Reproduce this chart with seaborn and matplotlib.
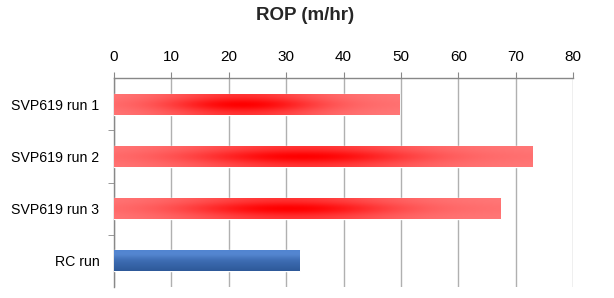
import numpy as np
import pandas as pd
import matplotlib
matplotlib.use("Agg")
import matplotlib.pyplot as plt
import seaborn as sns

categories = ["SVP619 run 1", "SVP619 run 2", "SVP619 run 3", "RC run"]
rop_values = [49.7, 73.0, 67.4, 32.4]
x_ticks = [0, 10, 20, 30, 40, 50, 60, 70, 80]
title = "ROP (m/hr)"

sns.set_style("white")
plt.rcParams["font.family"] = ["Liberation Sans", "DejaVu Sans"]

df = pd.DataFrame({"run": categories, "rop": rop_values})

fig = plt.figure(figsize=(6.14, 2.98), dpi=100)
ax = fig.add_axes([114/614, 1-287/298, (573-114)/614, (287-78)/298])

sns.barplot(data=df, x="rop", y="run", orient="h", ax=ax,
            color="#ff0000", width=0.4, saturation=1, zorder=3)

ax.set_xlim(0, 80)
ax.set_xticks(x_ticks)
ax.xaxis.tick_top()
ax.xaxis.set_label_position("top")
ax.set_xlabel("")
ax.set_ylabel("")
ax.tick_params(axis="x", which="both", top=True, bottom=False, length=4,
               color="#888888", labelsize=11, pad=6, labelcolor="black")
ax.set_ylim(3.5, -0.5)
ax.set_yticks(range(len(categories)))
ax.set_yticklabels(categories)
ax.tick_params(axis="y", which="major", left=False, labelsize=10.2, pad=7, labelcolor="black")
ax.set_yticks([0.5, 1.5, 2.5], minor=True)
ax.tick_params(axis="y", which="minor", left=True, length=4, color="#888888")

ax.grid(axis="x", color="#b0b0b0", lw=1, zorder=0)
ax.set_axisbelow(True)
for s in ["right", "bottom"]:
    ax.spines[s].set_visible(False)
for s in ["top", "left"]:
    ax.spines[s].set_color("#888888")
    ax.spines[s].set_linewidth(1)

# gradient fills
n = 200
u = np.linspace(0, 1, n)
v = np.linspace(0, 1, 40)
U, V = np.meshgrid(u, v)
for i, p in enumerate(ax.patches):
    x0, y0 = p.get_x(), p.get_y()
    w, h = p.get_width(), p.get_height()
    if categories[i] == "RC run":
        top = np.array([0.30, 0.50, 0.80])
        bot = np.array([0.18, 0.35, 0.60])
        img = top[None, None, :] * (1 - V[..., None]) + bot[None, None, :] * V[..., None]
        img = np.clip(img + 0.05 * np.exp(-((V - 0.2) / 0.2) ** 2)[..., None], 0, 1)
    else:
        L = 0.45 * (1 - np.exp(-((U - 0.45) / 0.28) ** 2))
        L = L + 0.22 * (1 - np.exp(-((V - 0.5) / 0.3) ** 2)) * (1 - L / 0.5)
        L = np.clip(L, 0, 0.5)
        img = np.stack([np.ones_like(L), L, L], axis=-1)
    im = ax.imshow(img, extent=[x0, x0 + w, y0 + h, y0], aspect="auto",
                   zorder=4, interpolation="bilinear")
    im.set_clip_path(p)

ax.set_xlim(0, 80)
ax.set_ylim(3.5, -0.5)

fig.text(305/614, 1-16/298, title, ha="center", va="center",
         fontsize=13.5, fontweight="bold")

fig.savefig("out.png", dpi=100)
